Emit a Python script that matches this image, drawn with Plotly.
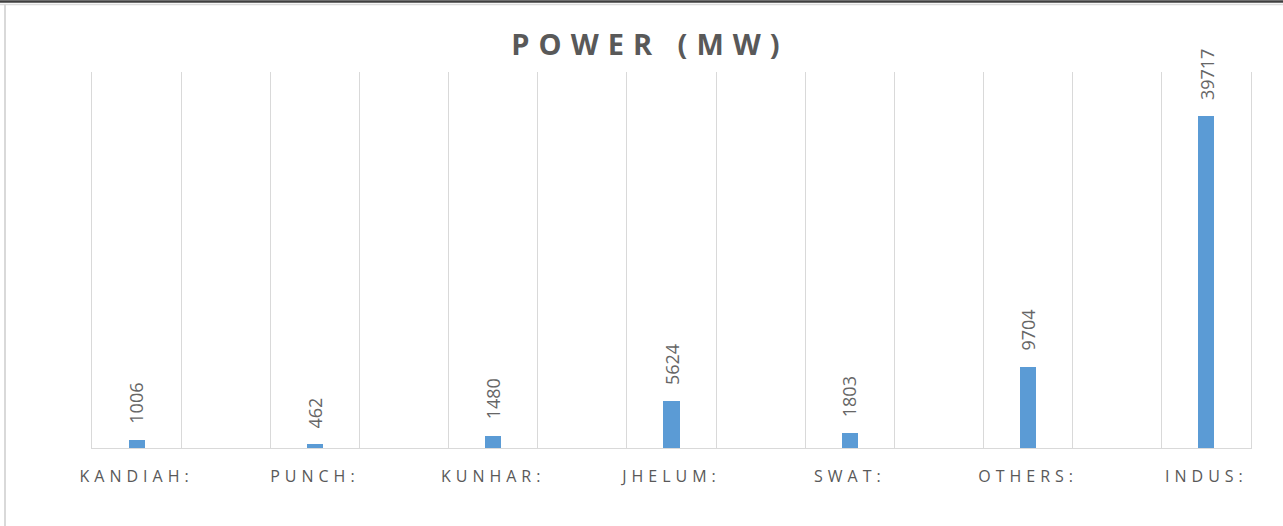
import plotly.graph_objects as go

# ---- data ----
categories = ["KANDIAH:", "PUNCH:", "KUNHAR:", "JHELUM:", "SWAT:", "OTHERS:", "INDUS:"]
power_mw = [1006, 462, 1480, 5624, 1803, 9704, 39717]
title_text = "POWER (MW)"

# ---- layout constants ----
W, H = 1283, 526
ML, MR, MT, MB = 92, 32, 72, 78
GRID = "#d9d9d9"
TXT = "#595959"
BAR = "#5b9bd5"

# each category followed by an empty slot (13 slots in total)
xpos = [2 * i for i in range(len(categories))]
nslots = 2 * len(categories) - 1

fig = go.Figure()
fig.add_trace(go.Bar(
    x=xpos, y=power_mw, width=0.18,
    marker=dict(color=BAR, line=dict(width=0)),
    hoverinfo="skip", showlegend=False,
))

for x, v in zip(xpos, power_mw):
    fig.add_annotation(
        x=x, y=v, xref="x", yref="y", text=str(v), showarrow=False,
        textangle=-90, yanchor="bottom", xanchor="center", yshift=14,
        font=dict(family="Open Sans", size=18, color="#666666"),
    )

ls = "letter-spacing:5px"
fig.update_xaxes(
    range=[-0.5, nslots - 0.5],
    tickmode="array", tickvals=xpos,
    ticktext=[f'<span style="{ls}">{c}</span>' for c in categories],
    showgrid=False, ticks="", ticklabelstandoff=14,
    tickfont=dict(family="Open Sans", size=16, color=TXT),
    showline=True, linecolor=GRID, linewidth=1,
    minor=dict(tickmode="array", tickvals=[k - 0.5 for k in range(nslots + 1)],
               showgrid=True, gridcolor=GRID, gridwidth=1, ticks=""),
    zeroline=False, fixedrange=True,
)
fig.update_yaxes(
    range=[0, 45000], showticklabels=False, ticks="", showgrid=False, zeroline=False,
    showline=True, mirror=True, linecolor=GRID, linewidth=1, fixedrange=True,
)

pw = W - ML - MR
ph = H - MT - MB
def px_x(px):
    return (px - ML) / pw
def px_y(py):
    return (H - MB - py) / ph

shapes = [
    dict(type="line", xref="paper", yref="paper", x0=px_x(0), x1=px_x(W),
         y0=px_y(1.5), y1=px_y(1.5), line=dict(color="#3f3f3f", width=2.5)),
    dict(type="line", xref="paper", yref="paper", x0=px_x(0), x1=px_x(W),
         y0=px_y(4.5), y1=px_y(4.5), line=dict(color="#dcdcdc", width=1.5)),
    dict(type="line", xref="paper", yref="paper", x0=px_x(5), x1=px_x(5),
         y0=px_y(4), y1=px_y(H), line=dict(color="#d9d9d9", width=2)),
]

fig.update_layout(
    width=W, height=H,
    margin=dict(l=ML, r=MR, t=MT, b=MB, pad=0),
    paper_bgcolor="white", plot_bgcolor="white",
    bargap=0,
    shapes=shapes,
    title=dict(
        text=f'<b><span style="letter-spacing:9px">{title_text}</span></b>',
        x=650 / W, xanchor="center", xref="container",
        y=1 - 45 / H, yanchor="middle", yref="container",
        font=dict(family="Open Sans", size=29, color=TXT),
    ),
    showlegend=False,
)

fig.write_html(
    "out.html",
    config={"displayModeBar": False, "staticPlot": True},
    post_script="document.body.style.margin='0';document.body.style.overflow='hidden';",
)
